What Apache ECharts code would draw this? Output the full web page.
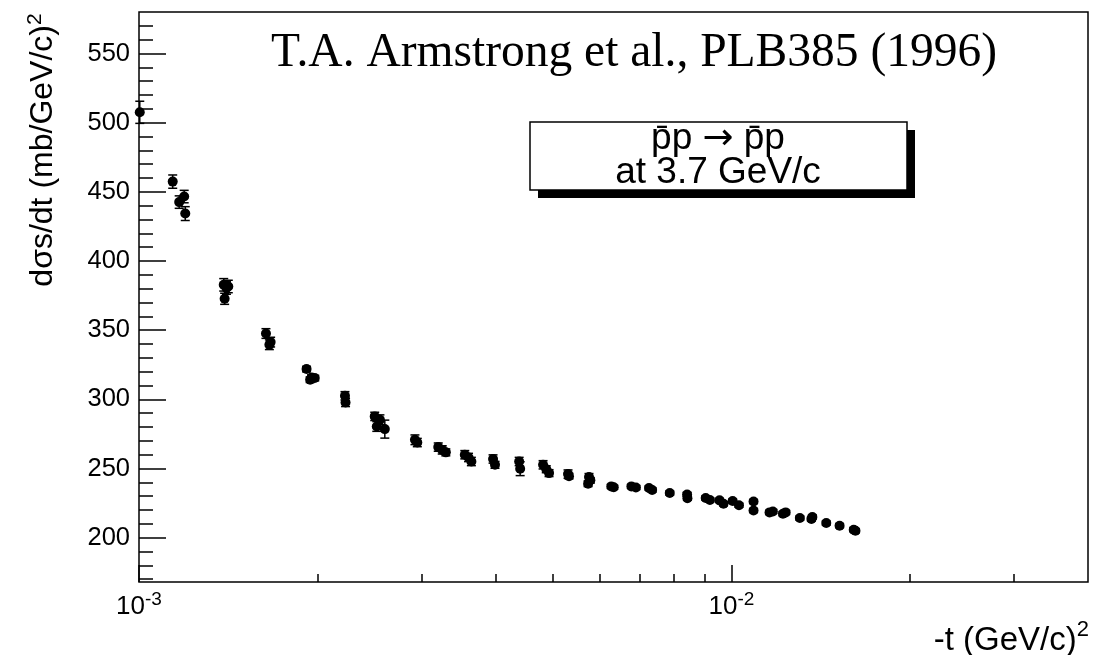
<!DOCTYPE html>
<html><head><meta charset="utf-8">
<script src="https://cdn.jsdelivr.net/npm/echarts@6/dist/echarts.min.js"></script>
<style>html,body{margin:0;padding:0;background:#fff}#c{width:1118px;height:655px}</style>
</head><body><div id="c"></div>
<script>
// -t (GeV/c)^2
const tValues = [
 0.001003, 0.00114, 0.001169, 0.001192, 0.001197,
 0.00139, 0.001395, 0.001405, 0.001415,
 0.001638, 0.001660, 0.001668,
 0.001918, 0.001945, 0.001956, 0.00198,
 0.002227, 0.002232,
 0.00250, 0.00252, 0.002551, 0.00260,
 0.002923, 0.00295,
 0.00320, 0.00325, 0.003296,
 0.003548, 0.00360, 0.00364,
 0.00396, 0.00399,
 0.004383, 0.00440,
 0.00481, 0.00487, 0.004923,
 0.00530, 0.00532,
 0.00573, 0.00575, 0.00578,
 0.00627, 0.00633,
 0.00678, 0.00690,
 0.00726, 0.00735,
 0.00787,
 0.00842, 0.00843,
 0.00905, 0.00920,
 0.00955, 0.00970,
 0.01005, 0.01030,
 0.01090, 0.01090,
 0.01160, 0.01175,
 0.01222, 0.01235,
 0.01305,
 0.01365, 0.01370,
 0.01446,
 0.01523,
 0.01609, 0.01620
];
// dsigma/dt (mb/GeV/c)^2
const dsdtValues = [
 507.5, 457.4, 442.6, 446.6, 434.3,
 382.8, 372.7, 380.5, 381.6,
 347.6, 339.5, 341.4,
 321.9, 314.2, 315.8, 315.4,
 302.6, 297.8,
 287.7, 280.4, 285.3, 278.5,
 270.8, 268.8,
 265.5, 263.5, 261.7,
 260.0, 258.0, 255.1,
 256.9, 252.7,
 255.1, 249.9,
 252.7, 249.5, 246.7,
 246.0, 244.5,
 239.0, 243.9, 241.5,
 237.1, 236.5,
 237.1, 236.3,
 235.9, 234.5,
 232.3,
 231.3, 228.6,
 228.7, 227.3,
 227.0, 224.5,
 226.5, 223.5,
 226.2, 219.7,
 218.3, 219.0,
 217.3, 218.3,
 214.2,
 213.5, 215.0,
 210.6,
 208.7,
 205.8, 205.0
];
const dsdtErrors = [
 8, 4.8, 4.5, 4.5, 5,
 4.5, 4, 4.5, 4.5,
 3.5, 3.5, 3.5,
 2, 2, 2, 2,
 3, 3,
 3, 3.5, 3.5, 6.5,
 3.5, 3,
 3, 3, 2.5,
 3, 3, 3,
 3, 2.5,
 3, 5,
 3, 2.5, 2.5,
 3, 2,
 2, 2.5, 2,
 1.5, 1.5,
 1.5, 1.5,
 1.5, 1.5,
 1.5,
 1.5, 1.5,
 1.5, 1.5,
 1.5, 1.5,
 1.5, 1.5,
 1.5, 1.5,
 1.5, 1.5,
 1.5, 1.5,
 1.5,
 1.5, 1.5,
 1.5,
 1.5,
 1.5, 1.5
];
const xLabelTicks = [0.001, 0.01];
const xMinorTicks = [0.002, 0.003, 0.004, 0.005, 0.006, 0.007, 0.008, 0.009, 0.02, 0.03];
const yLabelTicks = [200, 250, 300, 350, 400, 450, 500, 550];
const yMinorTicks = [170,180,190,200,210,220,230,240,250,260,270,280,290,300,310,320,330,340,350,360,370,380,390,400,410,420,430,440,450,460,470,480,490,500,510,520,530,540,550,560,570];

const SANS = 'Liberation Sans, Arial, Helvetica, sans-serif';
const SERIF = 'Liberation Serif, Times New Roman, serif';
const X_MIN = 0.001, X_MAX = 0.04, Y_MIN = 168, Y_MAX = 580;

const points = tValues.map((t, i) => [t, dsdtValues[i]]);
const errs = tValues.map((t, i) => [t, dsdtValues[i] - dsdtErrors[i], dsdtValues[i] + dsdtErrors[i]]);

function powLabel(v) {
  const e = Math.round(Math.log10(v));
  return '{b|10}{e|' + e + '}';
}

const chart = echarts.init(document.getElementById('c'), null, {renderer: 'canvas'});
const tickLine = {color: '#000', width: 1.5};
chart.setOption({
  animation: false,
  backgroundColor: '#fff',
  grid: {left: 139, right: 30, top: 12, bottom: 73, show: true, borderColor: '#000', borderWidth: 1.5,
         backgroundColor: 'transparent', containLabel: false, outerBoundsMode: 'none'},
  xAxis: [{
    type: 'log', logBase: 10, min: X_MIN, max: X_MAX, position: 'bottom',
    axisLine: {show: false}, splitLine: {show: false},
    axisTick: {show: true, inside: true, length: 8, customValues: xMinorTicks, lineStyle: tickLine},
    axisLabel: {show: true, customValues: xLabelTicks, formatter: powLabel, margin: 8, color: '#000',
      rich: {
        b: {fontSize: 26, fontFamily: SANS, color: '#000', lineHeight: 30, verticalAlign: 'bottom'},
        e: {fontSize: 19, fontFamily: SANS, color: '#000', lineHeight: 20, verticalAlign: 'top'}
      }}
  }, {
    type: 'log', logBase: 10, min: X_MIN, max: X_MAX, position: 'bottom',
    axisLine: {show: false}, splitLine: {show: false},
    axisTick: {show: true, inside: true, length: 17, customValues: xLabelTicks, lineStyle: tickLine},
    axisLabel: {show: false}
  }],
  yAxis: [{
    type: 'value', min: Y_MIN, max: Y_MAX, position: 'left', offset: 0,
    axisLine: {show: false}, splitLine: {show: false},
    axisTick: {show: true, inside: true, length: 14, customValues: yMinorTicks, lineStyle: tickLine},
    axisLabel: {show: true, customValues: yLabelTicks, margin: 9, color: '#000', fontSize: 25.5, fontFamily: SANS}
  }, {
    type: 'value', min: Y_MIN, max: Y_MAX, position: 'left', offset: 0,
    axisLine: {show: false}, splitLine: {show: false},
    axisTick: {show: true, inside: true, length: 27, customValues: yLabelTicks, lineStyle: tickLine},
    axisLabel: {show: false}
  }],
  series: [{
    name: 'errors', type: 'custom', xAxisIndex: 0, yAxisIndex: 0, data: errs,
    encode: {x: 0, y: [1, 2]}, z: 2,
    renderItem: function (params, api) {
      const x = api.value(0);
      const lo = api.coord([x, api.value(1)]);
      const hi = api.coord([x, api.value(2)]);
      const hw = 4.5;
      const st = {stroke: '#000', lineWidth: 1.5};
      return {type: 'group', children: [
        {type: 'line', shape: {x1: lo[0], y1: lo[1], x2: hi[0], y2: hi[1]}, style: st},
        {type: 'line', shape: {x1: lo[0] - hw, y1: lo[1], x2: lo[0] + hw, y2: lo[1]}, style: st},
        {type: 'line', shape: {x1: hi[0] - hw, y1: hi[1], x2: hi[0] + hw, y2: hi[1]}, style: st}
      ]};
    }
  }, {
    name: 'data', type: 'scatter', xAxisIndex: 0, yAxisIndex: 0, data: points,
    symbol: 'circle', symbolSize: 10, itemStyle: {color: '#000', opacity: 1}, z: 3,
    emphasis: {disabled: true}
  }],
  graphic: [
    {type: 'text', x: 634, y: 77.5, z: 10, style: {text: 'T.A. Armstrong et al., PLB385 (1996)',
      font: '47.5px ' + SERIF, fill: '#000', textAlign: 'center', textVerticalAlign: 'bottom'}},
    {type: 'rect', z: 10, shape: {x: 538, y: 130, width: 377, height: 68}, style: {fill: '#000'}},
    {type: 'rect', z: 11, shape: {x: 530, y: 122, width: 377, height: 68}, style: {fill: '#fff', stroke: '#000', lineWidth: 1.5}},
    {type: 'text', x: 718, y: 139, z: 12, style: {
      text: '{p|p\u0304p }{r|\u2192}{p| p\u0304p}', textAlign: 'center', textVerticalAlign: 'middle',
      rich: {p: {fontSize: 37, fontFamily: SANS, fill: '#000', verticalAlign: 'middle', lineHeight: 40},
             r: {fontSize: 37, fontFamily: 'DejaVu Sans, sans-serif', fill: '#000', verticalAlign: 'middle', lineHeight: 40}}}},
    {type: 'text', x: 718, y: 173, z: 12, style: {text: 'at 3.7 GeV/c', font: '37px ' + SANS, fill: '#000',
      textAlign: 'center', textVerticalAlign: 'middle'}},
    {type: 'text', x: 42, y: 150, rotation: Math.PI / 2, z: 10, style: {
      text: '{a|d\u03C3s/dt (mb/GeV/c)}{s|2}', textAlign: 'center', textVerticalAlign: 'middle',
      rich: {a: {fontSize: 32, fontFamily: SANS, fill: '#000', lineHeight: 35, verticalAlign: 'bottom'},
             s: {fontSize: 21, fontFamily: SANS, fill: '#000', lineHeight: 22, verticalAlign: 'top'}}}},
    {type: 'text', x: 1089, y: 657, z: 10, style: {
      text: '{a|-t (GeV/c)}{s|2}', textAlign: 'right', textVerticalAlign: 'bottom',
      rich: {a: {fontSize: 33, fontFamily: SANS, fill: '#000', lineHeight: 38, verticalAlign: 'bottom'},
             s: {fontSize: 22, fontFamily: SANS, fill: '#000', lineHeight: 23, verticalAlign: 'top'}}}}
  ]
});
</script></body></html>
